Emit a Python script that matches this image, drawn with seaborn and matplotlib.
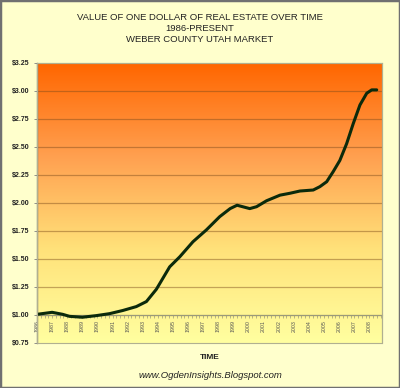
import numpy as np
import pandas as pd
import matplotlib
matplotlib.use("Agg")
import matplotlib.pyplot as plt
from matplotlib.colors import LinearSegmentedColormap
from matplotlib.patches import Rectangle
import seaborn as sns

# ---- data ----
years = [1986.0, 1987.0, 1987.7, 1988.15, 1989.0, 1989.9, 1990.8, 1991.67,
         1992.57, 1993.24, 1993.9, 1994.78, 1995.45, 1996.32, 1997.21,
         1998.09, 1998.78, 1999.24, 2000.08, 2000.53, 2001.19, 2002.08,
         2002.74, 2003.4, 2004.28, 2004.72, 2005.17, 2005.6, 2006.04,
         2006.49, 2006.93, 2007.37, 2007.82, 2008.15, 2008.48]
values = [1.006, 1.024, 1.006, 0.988, 0.980, 0.994, 1.012, 1.040,
          1.075, 1.120, 1.230, 1.430, 1.520, 1.654, 1.760,
          1.878, 1.950, 1.980, 1.950, 1.967, 2.020, 2.070,
          2.087, 2.107, 2.116, 2.146, 2.190, 2.280, 2.380,
          2.530, 2.710, 2.875, 2.980, 3.010, 3.010]
year_ticks = list(range(1986, 2009))
y_ticks = [0.75, 1.00, 1.25, 1.50, 1.75, 2.00, 2.25, 2.50, 2.75, 3.00, 3.25]
title_lines = ["VALUE OF ONE DOLLAR OF REAL ESTATE OVER TIME",
               "1986-PRESENT", "WEBER COUNTY UTAH MARKET"]
x_title = "TIME"
footer = "www.OgdenInsights.Blogspot.com"

df = pd.DataFrame({"year": years, "value": values})

sns.set_style("white")
plt.rcParams["font.family"] = ["Liberation Sans", "DejaVu Sans"]

W, H = 400, 388
fig = plt.figure(figsize=(W / 100, H / 100), dpi=100, facecolor="#FFFFCC")
ax = fig.add_axes([37 / W, 1 - 343 / H, (382 - 37) / W, (343 - 63) / H])

# gradient background
cmap = LinearSegmentedColormap.from_list("g", ["#FF6600", "#FFA050", "#FFE27A", "#FFFFA0"])
grad = np.linspace(0, 1, 256).reshape(-1, 1)
ax.imshow(grad, extent=[0, 1, 0, 1], transform=ax.transAxes, aspect="auto",
          cmap=cmap, zorder=0, interpolation="bicubic")

for yv in y_ticks[1:-1]:
    ax.axhline(yv, color="#7a4a1a", alpha=0.45, lw=0.9, zorder=1)

sns.lineplot(data=df, x="year", y="value", ax=ax, color="#0B2A0B", lw=2.2,
             zorder=3, legend=False)

ax.spines["bottom"].set_position(("data", 1.0))
ax.spines["bottom"].set_color("#9a9a7a")
ax.spines["bottom"].set_linewidth(0.8)
ax.spines["left"].set_color("#808080")
ax.spines["left"].set_linewidth(1.0)
for s in ["top", "right"]:
    ax.spines[s].set_color("#b0b090")
    ax.spines[s].set_linewidth(0.8)

ax.set_xlim(1986.0, 2008.83)
ax.set_ylim(0.75, 3.25)
ax.set_yticks(y_ticks)
ax.set_yticklabels([f"${v:.2f}" for v in y_ticks], fontsize=5.0,
                   fontweight="bold", color="#222222")
ax.set_xticks(year_ticks)
ax.set_xticklabels([str(y) for y in year_ticks], rotation=90, fontsize=3.8,
                   color="#555555")
ax.set_xticks(np.arange(1986, 2008.9, 0.25), minor=True)
ax.tick_params(axis="x", which="both", length=1.8, width=0.5, color="#9a9a7a",
               pad=2, direction="out", bottom=True)
ax.tick_params(axis="y", length=2.5, width=0.6, color="#808080", pad=3, left=True)
ax.set_xlabel("")
ax.set_ylabel("")
ax.add_patch(Rectangle((0, 0), 1, 1, transform=ax.transAxes, fill=False,
                       edgecolor="#b0b090", lw=0.8, zorder=4, clip_on=False))

ys = [17.3, 28.3, 39.5]
for t, yy in zip(title_lines, ys):
    fig.text(0.5, 1 - yy / H, t, ha="center", va="center", fontsize=6.8,
             color="#222222")
fig.text(210 / W, 1 - 357.5 / H, x_title, ha="center", va="center",
         fontsize=6.0, fontweight="bold", color="#222222")
fig.text(210 / W, 1 - 376 / H, footer, ha="center", va="center",
         fontsize=6.8, style="italic", color="#222222")

fig.patches.append(Rectangle((0, 0), 1, 1, transform=fig.transFigure,
                             fill=False, edgecolor="#707070", lw=2.5))

fig.savefig("out.png", dpi=100, facecolor=fig.get_facecolor())
